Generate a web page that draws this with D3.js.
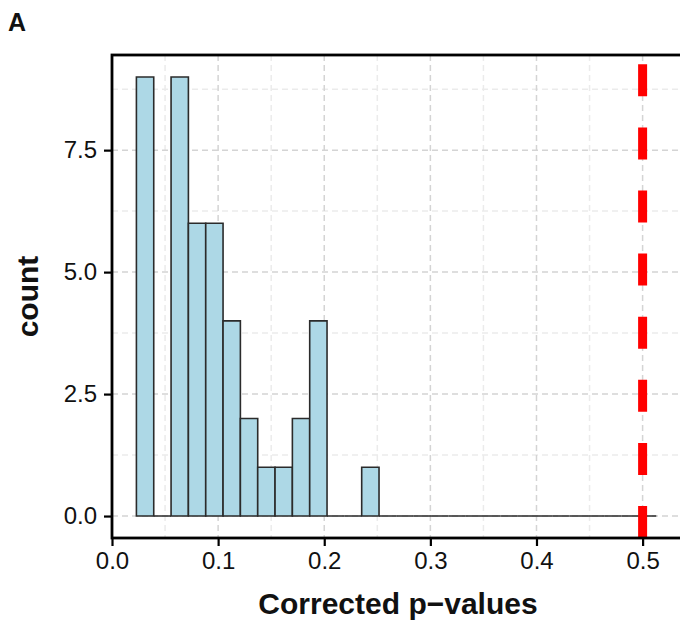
<!DOCTYPE html>
<html lang="en">
<head>
<meta charset="utf-8">
<title>Corrected p-values histogram</title>
<script src="https://cdn.jsdelivr.net/npm/d3@7"></script>
<style>
    body {
        margin: 0;
        background: #fff;
        font-family: "Liberation Sans", Arial, sans-serif;
    }
    .tick text {
        font-size: 24px;
        fill: #111;
    }
    .axis-title {
        font-size: 30px;
        font-weight: bold;
        fill: #111;
    }
</style>
</head>
<body>
<svg id="chart" width="680" height="620"></svg>
<script>
// ---------------- data ----------------
// histogram: 30 bins, lower edge of first bin and bin width (p-value units)
var binStart = 0.023;
var binWidth = 0.01633;
var counts = [9, 0, 9, 6, 6, 4, 2, 1, 1, 2, 4, 0, 0, 1, 0,
              0, 0, 0, 0, 0, 0, 0, 0, 0, 0, 0, 0, 0, 0, 0];
var cutoff = 0.5;
var xTicks = [0, 0.1, 0.2, 0.3, 0.4, 0.5];
var xMinor = [0.05, 0.15, 0.25, 0.35, 0.45];
var yTicks = [0, 2.5, 5, 7.5];
var yMinor = [1.25, 3.75, 6.25, 8.75];

var bins = counts.map(function (c, i) {
    return {x0: binStart + i * binWidth, x1: binStart + (i + 1) * binWidth, count: c};
});

// ---------------- layout ----------------
var svg = d3.select("#chart");
var m = {left: 112, top: 55, right: 684, bottom: 538};

var x = d3.scaleLinear().domain([0, 0.539]).range([m.left, m.right]);
var y = d3.scaleLinear().domain([-0.45, 9.45]).range([m.bottom, m.top]);

var defs = svg.append("defs");
defs.append("clipPath").attr("id", "panel-clip")
    .append("rect")
    .attr("x", m.left).attr("y", m.top)
    .attr("width", m.right - m.left).attr("height", m.bottom - m.top);

var panel = svg.append("g").attr("clip-path", "url(#panel-clip)");

// grid lines
function vgrid(vals, col) {
    panel.append("g").selectAll("line").data(vals).enter().append("line")
        .attr("x1", x).attr("x2", x).attr("y1", m.top).attr("y2", m.bottom)
        .attr("stroke", col).attr("stroke-width", 1.5).attr("stroke-dasharray", "6,4");
}
function hgrid(vals, col) {
    panel.append("g").selectAll("line").data(vals).enter().append("line")
        .attr("y1", y).attr("y2", y).attr("x1", m.left).attr("x2", m.right)
        .attr("stroke", col).attr("stroke-width", 1.5).attr("stroke-dasharray", "6,4");
}
vgrid(xMinor, "#ebebeb");
hgrid(yMinor, "#ebebeb");
vgrid(xTicks, "#d4d4d4");
hgrid(yTicks, "#d4d4d4");

// bars (drawn as paths so that empty bins still show their outline)
panel.selectAll(".bar").data(bins).enter().append("path")
    .attr("class", "bar")
    .attr("d", function (d) {
        var a = x(d.x0), b = x(d.x1), t = y(d.count), z = y(0);
        return "M" + a + "," + z + "V" + t + "H" + b + "V" + z + "Z";
    })
    .attr("fill", "#add8e6")
    .attr("stroke", "#2b2b2b")
    .attr("stroke-width", 1.6);

// cutoff line
panel.append("line")
    .attr("x1", x(cutoff)).attr("x2", x(cutoff))
    .attr("y1", y(-0.45)).attr("y2", y(9.45))
    .attr("stroke", "#ff0000").attr("stroke-width", 9)
    .attr("stroke-dasharray", "32,31.1");

// panel border
svg.append("rect")
    .attr("x", m.left).attr("y", m.top)
    .attr("width", m.right - m.left).attr("height", m.bottom - m.top)
    .attr("fill", "none").attr("stroke", "#000").attr("stroke-width", 2.8);

// axes
var xAxis = svg.append("g")
    .attr("transform", "translate(0," + m.bottom + ")")
    .call(d3.axisBottom(x).tickValues(xTicks).tickFormat(d3.format(".1f")).tickSizeOuter(0).tickSizeInner(8).tickPadding(6));
var yAxis = svg.append("g")
    .attr("transform", "translate(" + m.left + ",0)")
    .call(d3.axisLeft(y).tickValues(yTicks).tickFormat(d3.format(".1f")).tickSizeOuter(0).tickSizeInner(8).tickPadding(7));
[xAxis, yAxis].forEach(function (a) {
    a.select(".domain").remove();
    a.selectAll(".tick line").attr("stroke", "#000").attr("stroke-width", 2.2);
    a.selectAll("text").attr("font-family", "'Liberation Sans', Arial, sans-serif");
});

// titles
svg.append("text").attr("class", "axis-title")
    .attr("x", (m.left + m.right) / 2).attr("y", 614)
    .attr("text-anchor", "middle")
    .text("Corrected p\u2212values");
svg.append("text").attr("class", "axis-title")
    .attr("transform", "translate(38," + ((m.top + m.bottom) / 2) + ") rotate(-90)")
    .attr("text-anchor", "middle")
    .text("count");
svg.append("text")
    .attr("x", 8).attr("y", 31)
    .attr("font-size", 25).attr("font-weight", "bold").attr("fill", "#111")
    .text("A");
</script>
</body>
</html>
